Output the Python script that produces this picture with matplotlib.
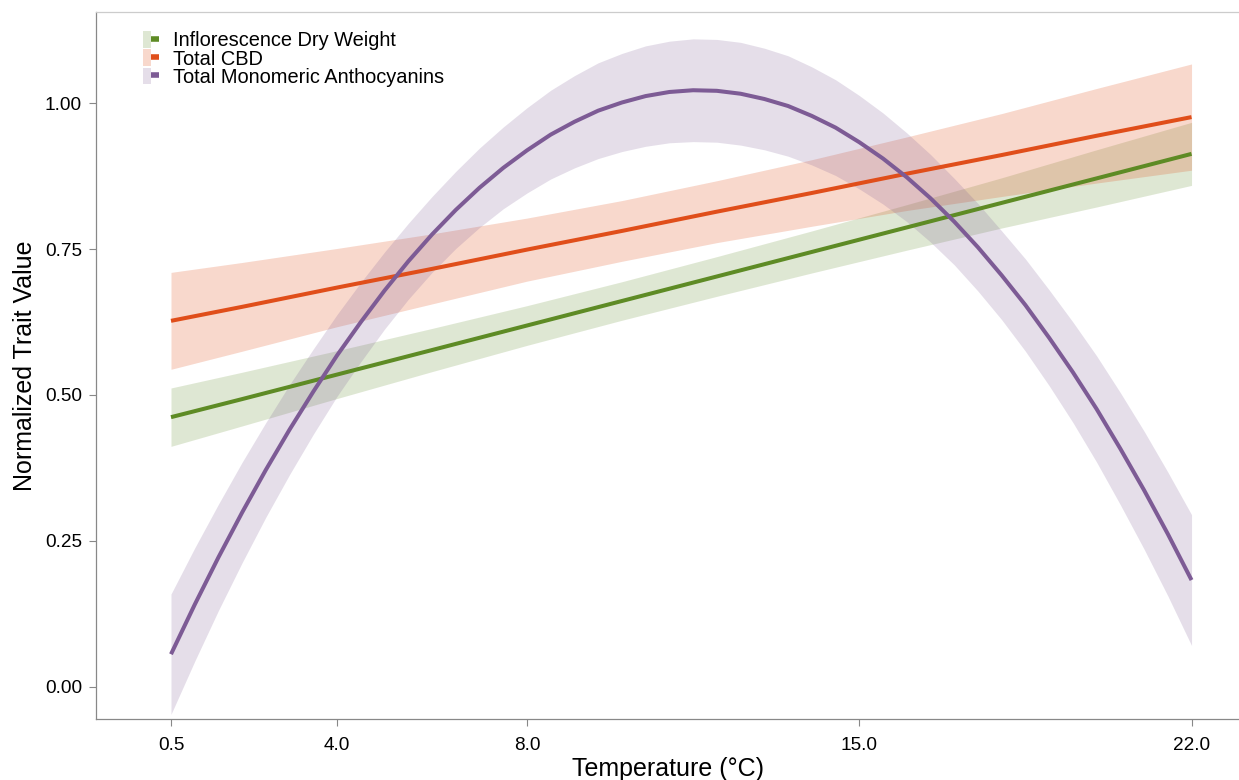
import numpy as np
import matplotlib.pyplot as plt
from matplotlib.patches import Patch
from matplotlib.lines import Line2D
from matplotlib.legend_handler import HandlerTuple

plt.rcParams['font.family'] = ['Liberation Sans', 'DejaVu Sans']

# Temperaturas (°C) de los ticks del eje x
temp_ticks = [0.5, 4.0, 8.0, 15.0, 22.0]

# Ajustes lineales: valor ajustado y semiancho del IC
temp_lin = [0.5, 2, 4, 6, 8, 10, 12, 14, 16, 18, 20, 22]

dry_fit = [0.462, 0.493, 0.535, 0.577, 0.619, 0.661, 0.703, 0.745, 0.787, 0.829, 0.871, 0.913]
dry_hw = [0.050, 0.046, 0.041, 0.037, 0.034, 0.033, 0.034, 0.036, 0.039, 0.043, 0.049, 0.054]

cbd_fit = [0.627, 0.651, 0.684, 0.716, 0.749, 0.781, 0.814, 0.846, 0.879, 0.911, 0.944, 0.976]
cbd_hw = [0.083, 0.076, 0.067, 0.060, 0.054, 0.052, 0.053, 0.057, 0.063, 0.071, 0.081, 0.091]

# Ajuste cuadratico de antocianinas (cada 0.5 °C)
temp_quad = [0.5, 1.0, 1.5, 2.0, 2.5, 3.0, 3.5, 4.0, 4.5, 5.0, 5.5, 6.0, 6.5, 7.0, 7.5,
             8.0, 8.5, 9.0, 9.5, 10.0, 10.5, 11.0, 11.5, 12.0, 12.5, 13.0, 13.5, 14.0,
             14.5, 15.0, 15.5, 16.0, 16.5, 17.0, 17.5, 18.0, 18.5, 19.0, 19.5, 20.0,
             20.5, 21.0, 21.5, 22.0]

anth_fit = [0.056, 0.141, 0.222, 0.299, 0.372, 0.441, 0.506, 0.568, 0.625, 0.679, 0.729,
            0.775, 0.817, 0.855, 0.889, 0.919, 0.946, 0.968, 0.987, 1.001, 1.012, 1.019,
            1.022, 1.021, 1.016, 1.007, 0.995, 0.978, 0.958, 0.933, 0.905, 0.873, 0.837,
            0.797, 0.753, 0.705, 0.654, 0.598, 0.539, 0.476, 0.408, 0.337, 0.262, 0.183]
anth_hw = [0.103, 0.097, 0.091, 0.086, 0.081, 0.077, 0.073, 0.070, 0.068, 0.066, 0.065,
           0.065, 0.066, 0.068, 0.070, 0.073, 0.076, 0.079, 0.082, 0.084, 0.086, 0.087,
           0.088, 0.088, 0.088, 0.087, 0.086, 0.084, 0.082, 0.080, 0.078, 0.076, 0.075,
           0.074, 0.075, 0.076, 0.079, 0.082, 0.086, 0.091, 0.096, 0.101, 0.106, 0.112]

series = [
    ('Inflorescence Dry Weight', temp_lin, dry_fit, dry_hw, '#5e8b25', 0.20),
    ('Total CBD', temp_lin, cbd_fit, cbd_hw, '#e04e1a', 0.22),
    ('Total Monomeric Anthocyanins', temp_quad, anth_fit, anth_hw, '#7d5b95', 0.20),
]

fig = plt.figure(figsize=(12.39, 7.8), dpi=100)
ax = fig.add_axes([96 / 1239, 61 / 780, 1143 / 1239, 707 / 780])

handles = []
labels = []
for nombre, t, fit, hw, color, alfa in series:
    fit = np.array(fit)
    hw = np.array(hw)
    # banda de confianza y luego la linea ajustada
    ax.fill_between(t, fit - hw, fit + hw, color=color, alpha=alfa, linewidth=0)
    ax.plot(t, fit, color=color, linewidth=2.9, solid_capstyle='butt', solid_joinstyle='round')
    h = (Patch(facecolor=color, alpha=alfa, edgecolor='none'),
         Line2D([0], [0], color=color, linewidth=4, solid_capstyle='butt'))
    handles.append(h)
    labels.append(nombre)

ax.set_xlim(-1.08, 23.0)
ax.set_ylim(-0.055, 1.156)

ax.set_xticks(temp_ticks)
ax.set_xticklabels([f'{v:.1f}' for v in temp_ticks])
ax.set_yticks([0, 0.25, 0.5, 0.75, 1.0])
ax.set_yticklabels(['0.00', '0.25', '0.50', '0.75', '1.00'])

ax.tick_params(axis='both', direction='out', length=5, width=0.8, color='#888888',
               labelsize=13.7, labelcolor='black')
ax.tick_params(axis='x', pad=8)
ax.tick_params(axis='y', pad=5)

ax.spines['right'].set_visible(False)
ax.spines['top'].set_color('#cccccc')
ax.spines['left'].set_color('#888888')
ax.spines['bottom'].set_color('#888888')
for s in ax.spines.values():
    s.set_linewidth(0.9)

ax.set_xlabel('Temperature (°C)', fontsize=18, va='center')
ax.set_ylabel('Normalized Trait Value', fontsize=18, va='center')
ax.xaxis.set_label_coords(0.5, (719 - 769) / 707)
ax.yaxis.set_label_coords((25 - 96) / 1143, 0.5)

leg = ax.legend(handles, labels, handler_map={tuple: HandlerTuple(ndivide=None, pad=0)},
                loc='upper left', bbox_to_anchor=((143 - 96) / 1143, (719 - 31) / 707),
                frameon=False, fontsize=14.4, borderpad=0, borderaxespad=0,
                handlelength=0.8, handleheight=0.9, handletextpad=0.7,
                labelspacing=-0.04)

fig.savefig('out.png', dpi=100)
